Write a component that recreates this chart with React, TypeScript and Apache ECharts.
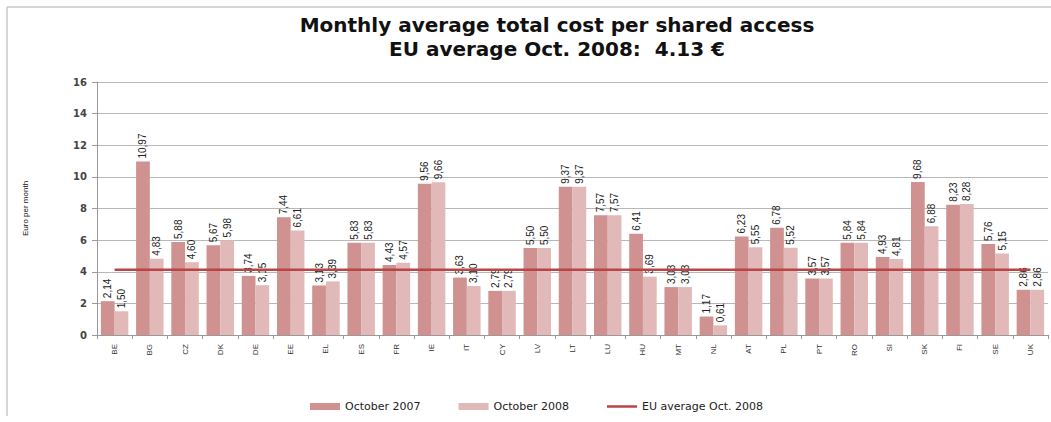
import React, { useEffect, useRef } from "react";
import * as echarts from "echarts";

const categories = ["BE","BG","CZ","DK","DE","EE","EL","ES","FR","IE","IT","CY","LV","LT","LU","HU","MT","NL","AT","PL","PT","RO","SI","SK","FI","SE","UK"];
const oct2007 = [2.14,10.97,5.88,5.67,3.74,7.44,3.13,5.83,4.43,9.56,3.63,2.79,5.50,9.37,7.57,6.41,3.03,1.17,6.23,6.78,3.57,5.84,4.93,9.68,8.23,5.76,2.86];
const oct2008 = [1.50,4.83,4.60,5.98,3.15,6.61,3.39,5.83,4.57,9.66,3.10,2.79,5.50,9.37,7.57,3.69,3.03,0.61,5.55,5.52,3.57,5.84,4.81,6.88,8.28,5.15,2.86];
const euAverage = 4.13;
const euLine = categories.map(() => euAverage);

const fmt = (v: number) => v.toFixed(2).replace(".", ",");

export default function App() {
  const ref = useRef<HTMLDivElement>(null);
  useEffect(() => {
    if (!ref.current) return;
    const chart = echarts.init(ref.current, null, { renderer: "svg" });
    const labelCfg = {
      show: true,
      position: "top",
      rotate: 90,
      align: "left",
      verticalAlign: "middle",
      distance: 3,
      fontSize: 10,
      fontFamily: "Liberation Sans Narrow, Arial Narrow, sans-serif",
      color: "#222",
      formatter: (p: any) => fmt(p.value),
    };
    chart.setOption({
      animation: false,
      backgroundColor: "#fff",
      title: {
        text: "Monthly average total cost per shared access\nEU average Oct. 2008:  4.13 €",
        left: 552,
        textAlign: "center",
        top: 8,
        textStyle: {
          fontFamily: "DejaVu Sans, sans-serif",
          fontWeight: "bold",
          fontSize: 20,
          lineHeight: 24,
          color: "#111",
        },
      },
      graphic: [
        { type: "line", shape: { x1: 7, y1: 7, x2: 1051, y2: 7 }, style: { stroke: "#c8c8c8", lineWidth: 1.5 } },
        { type: "line", shape: { x1: 7, y1: 7, x2: 7, y2: 416 }, style: { stroke: "#c8c8c8", lineWidth: 1.5 } },
      ],
      legend: {
        bottom: 5,
        left: 305,
        itemWidth: 30,
        itemHeight: 7,
        itemGap: 38,
        textStyle: { fontFamily: "DejaVu Sans, sans-serif", fontSize: 11, color: "#222" },
        data: [
          { name: "October 2007", icon: "rect" },
          { name: "October 2008", icon: "rect" },
          { name: "EU average Oct. 2008", icon: "path://M0 0 H30 V2.5 H0 Z" },
        ],
      },
      grid: { left: 97, right: 3, top: 82, bottom: 87 },
      xAxis: {
        type: "category",
        data: categories,
        axisLine: { lineStyle: { color: "#999" } },
        axisTick: { show: true, lineStyle: { color: "#999" }, length: 4 },
        axisLabel: {
          rotate: 90,
          fontSize: 8,
          color: "#333",
          margin: 9,
          fontFamily: "Liberation Sans, sans-serif",
        },
      },
      yAxis: {
        type: "value",
        min: 0,
        max: 16,
        interval: 2,
        name: "Euro per month",
        nameLocation: "middle",
        nameGap: 68,
        nameRotate: 90,
        nameTextStyle: { fontSize: 8, color: "#111", fontFamily: "Liberation Sans Narrow, sans-serif" },
        axisLine: { show: true, lineStyle: { color: "#999" } },
        axisTick: { show: true, length: 5, lineStyle: { color: "#999" } },
        axisLabel: { fontSize: 10, fontWeight: "bold", color: "#444", margin: 10, fontFamily: "DejaVu Sans, sans-serif" },
        splitLine: { lineStyle: { color: "#b8b8b8", width: 1 } },
      },
      series: [
        {
          name: "October 2007",
          type: "bar",
          data: oct2007,
          barGap: "0%",
          barCategoryGap: "22%",
          itemStyle: { color: "#d09191" },
          label: labelCfg,
        },
        {
          name: "October 2008",
          type: "bar",
          data: oct2008,
          itemStyle: { color: "#e2b9b9" },
          label: labelCfg,
        },
        {
          name: "EU average Oct. 2008",
          type: "line",
          data: euLine,
          symbol: "none",
          lineStyle: { color: "#b94545", width: 2.5 },
          itemStyle: { color: "#b94545" },
          z: 5,
        },
      ],
    });
    return () => chart.dispose();
  }, []);
  return (
    <div
      ref={ref}
      style={{ position: "fixed", left: 0, top: 0, width: 1051, height: 422 }}
    />
  );
}
